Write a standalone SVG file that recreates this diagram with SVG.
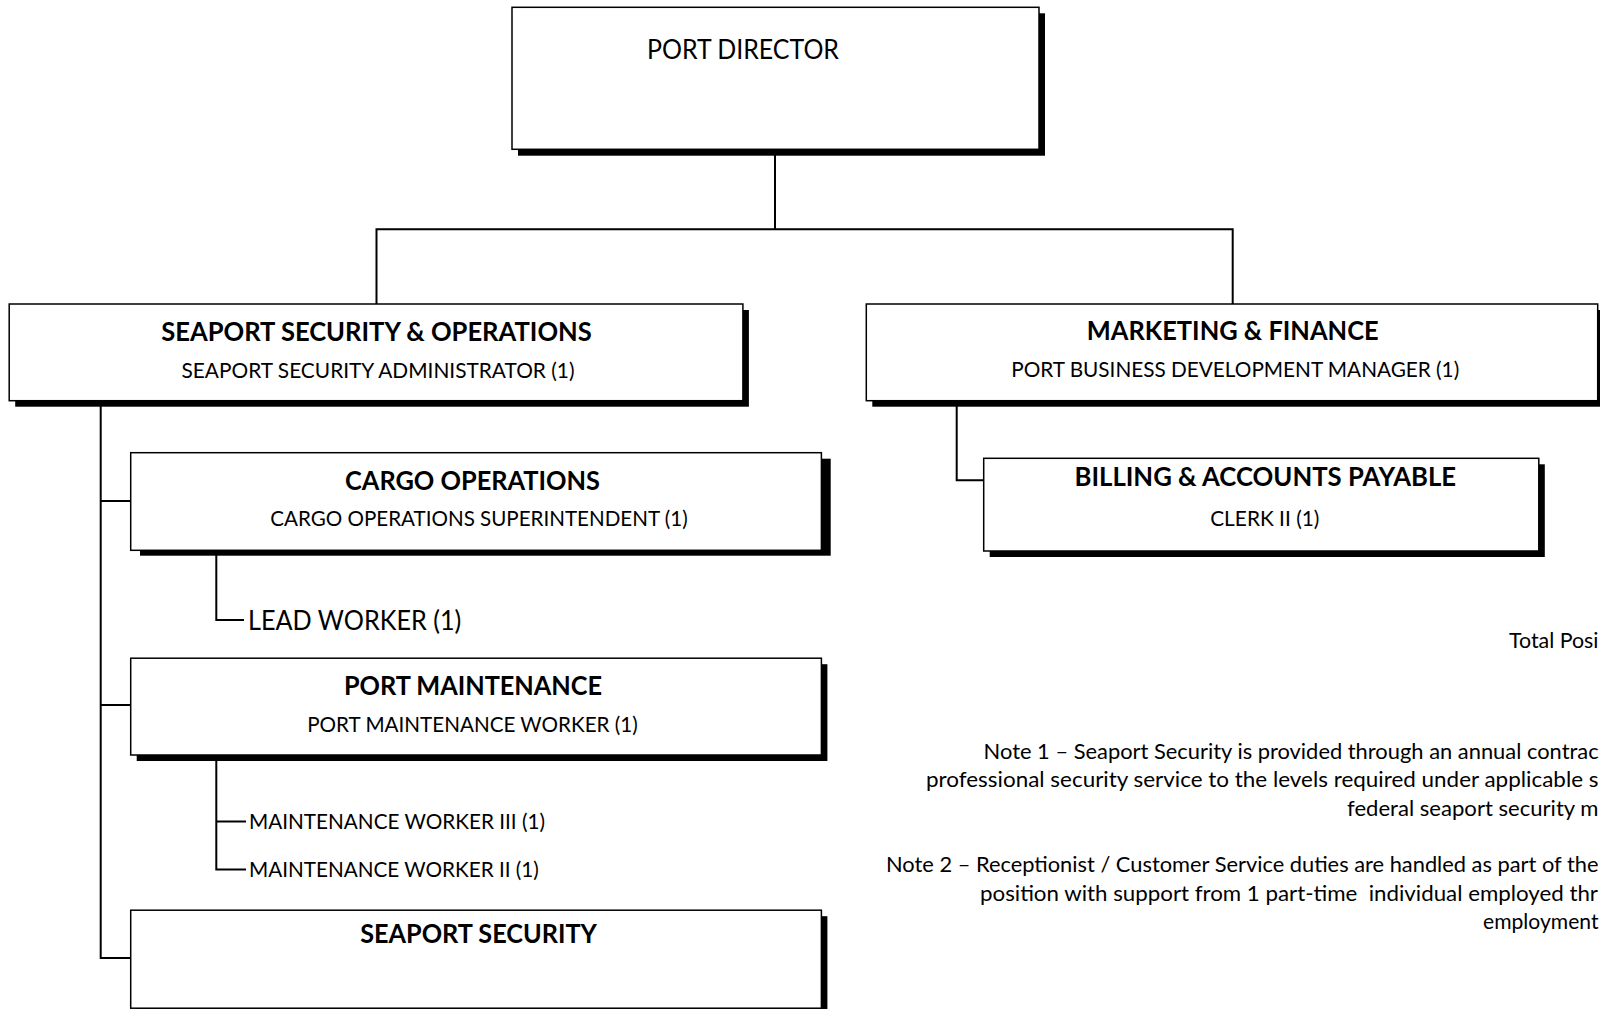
<svg xmlns="http://www.w3.org/2000/svg" width="1600" height="1009" viewBox="0 0 1600 1009">
<style>
.box{fill:#fff;stroke:#000;stroke-width:1.5}
.sh{fill:#000}
.ln{fill:none;stroke:#000;stroke-width:2}
.t{font-family:Lato,"Open Sans","Liberation Sans",sans-serif;fill:#000}
.h{font-weight:bold;font-size:26.4px}
.s{font-size:21.6px}
.l{font-size:26.2px}
.m{font-size:21.5px}
.n{font-size:22px}
.c{text-anchor:middle}
</style>
<rect width="1600" height="1009" fill="#fff"/>
<g id="connectors">
<path class="ln" d="M775 150 V229.3 M376.5 229.3 H1232.7 M376.5 228.3 V304 M1232.7 228.3 V304"/>
<path class="ln" d="M100.7 406 V958 M100.7 501 H130.7 M100.7 705 H130.7 M99.7 958 H130.7"/>
<path class="ln" d="M216.3 555 V620 H244"/>
<path class="ln" d="M216.3 760 V869.4 H246 M216.3 821.4 H246"/>
<path class="ln" d="M956.7 406 V480.3 H983.7"/>
</g>
<g id="port-director">
<rect class="sh" x="518" y="13.3" width="527" height="142.4"/>
<rect class="box" x="512" y="7.3" width="527" height="142"/>
<text class="t l c" x="743" y="59.4" textLength="192" lengthAdjust="spacingAndGlyphs">PORT DIRECTOR</text>
</g>
<g id="seaport-security-operations">
<rect class="sh" x="15.2" y="310" width="733.7" height="96.7"/>
<rect class="box" x="9.2" y="304" width="733.7" height="96.7"/>
<text class="t h c" x="376.5" y="341" textLength="430.6" lengthAdjust="spacingAndGlyphs">SEAPORT SECURITY &amp; OPERATIONS</text>
<text class="t s c" x="378" y="378" textLength="393" lengthAdjust="spacingAndGlyphs">SEAPORT SECURITY ADMINISTRATOR (1)</text>
</g>
<g id="marketing-finance">
<rect class="sh" x="872.3" y="310" width="731.4" height="96.7"/>
<rect class="box" x="866.3" y="304" width="731.4" height="96.7"/>
<text class="t h c" x="1232.7" y="340" textLength="291.8" lengthAdjust="spacingAndGlyphs">MARKETING &amp; FINANCE</text>
<text class="t s c" x="1235.2" y="377" textLength="448" lengthAdjust="spacingAndGlyphs">PORT BUSINESS DEVELOPMENT MANAGER (1)</text>
</g>
<g id="billing-accounts-payable">
<rect class="sh" x="989.7" y="464.3" width="555.1" height="92.7"/>
<rect class="box" x="983.7" y="458.3" width="555.1" height="92.7"/>
<text class="t h c" x="1265.3" y="486" textLength="381.6" lengthAdjust="spacingAndGlyphs">BILLING &amp; ACCOUNTS PAYABLE</text>
<text class="t s c" x="1264.8" y="526" textLength="109.2" lengthAdjust="spacingAndGlyphs">CLERK II (1)</text>
</g>
<g id="cargo-operations">
<rect class="sh" x="140" y="458.7" width="690.7" height="97"/>
<rect class="box" x="130.7" y="452.7" width="690.7" height="97.6"/>
<text class="t h c" x="472.5" y="490" textLength="255" lengthAdjust="spacingAndGlyphs">CARGO OPERATIONS</text>
<text class="t s c" x="479" y="526" textLength="417.3" lengthAdjust="spacingAndGlyphs">CARGO OPERATIONS SUPERINTENDENT (1)</text>
</g>
<g id="lead-worker">
<text class="t l" x="248" y="630" textLength="213.3" lengthAdjust="spacingAndGlyphs">LEAD WORKER (1)</text>
</g>
<g id="port-maintenance">
<rect class="sh" x="136.7" y="664.2" width="690.7" height="96.8"/>
<rect class="box" x="130.7" y="658.2" width="690.7" height="96.8"/>
<text class="t h c" x="473" y="695" textLength="258.2" lengthAdjust="spacingAndGlyphs">PORT MAINTENANCE</text>
<text class="t s c" x="472.5" y="732" textLength="330.6" lengthAdjust="spacingAndGlyphs">PORT MAINTENANCE WORKER (1)</text>
</g>
<g id="maintenance-worker-iii">
<text class="t m" x="249" y="829" textLength="296" lengthAdjust="spacingAndGlyphs">MAINTENANCE WORKER III (1)</text>
</g>
<g id="maintenance-worker-ii">
<text class="t m" x="249" y="877" textLength="289.8" lengthAdjust="spacingAndGlyphs">MAINTENANCE WORKER II (1)</text>
</g>
<g id="seaport-security">
<rect class="sh" x="136.7" y="916.2" width="690.7" height="98"/>
<rect class="box" x="130.7" y="910.2" width="690.7" height="98"/>
<text class="t h c" x="478.6" y="943" textLength="236.7" lengthAdjust="spacingAndGlyphs">SEAPORT SECURITY</text>
</g>
<g id="notes">
<text class="t n" x="1509" y="647.5" textLength="89.5" lengthAdjust="spacingAndGlyphs">Total Posi</text>
<text class="t n" x="983.6" y="758.8" textLength="615" lengthAdjust="spacingAndGlyphs">Note 1 – Seaport Security is provided through an annual contrac</text>
<text class="t n" x="926" y="787.3" textLength="672.5" lengthAdjust="spacingAndGlyphs">professional security service to the levels required under applicable s</text>
<text class="t n" x="1347" y="816" textLength="251.5" lengthAdjust="spacingAndGlyphs">federal seaport security m</text>
<text class="t n" x="886" y="872" textLength="712.5" lengthAdjust="spacingAndGlyphs">Note 2 – Receptionist / Customer Service duties are handled as part of the</text>
<text class="t n" x="980" y="900.6" textLength="618" lengthAdjust="spacingAndGlyphs" xml:space="preserve">position with support from 1 part-time  individual employed thr</text>
<text class="t n" x="1483" y="929" textLength="115.5" lengthAdjust="spacingAndGlyphs">employment</text>
</g>
</svg>
